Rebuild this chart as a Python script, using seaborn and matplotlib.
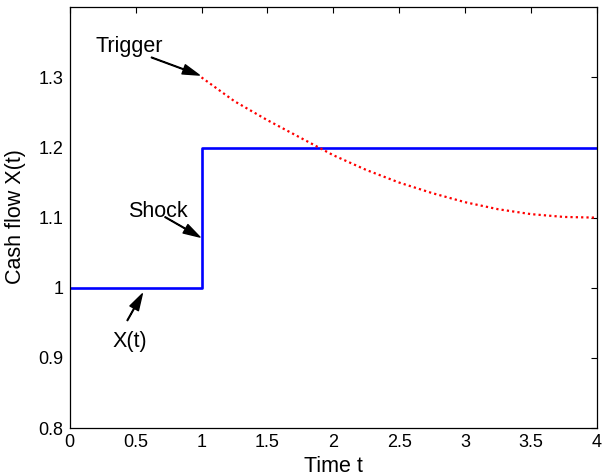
import matplotlib
matplotlib.use("Agg")
import matplotlib.pyplot as plt
import pandas as pd
import seaborn as sns

# Cash flow path X(t): level 1 until the shock at t = 1, then 1.2
flow_t = [0.0, 1.0, 4.0]
flow_x = [1.0, 1.2, 1.2]

# Trigger boundary after the shock
trigger_t = [1.0, 1.25, 1.5, 1.75, 2.0, 2.25, 2.5, 2.75, 3.0, 3.25, 3.5, 3.75, 4.0]
trigger_x = [1.300, 1.266, 1.239, 1.214, 1.189, 1.168, 1.150, 1.135, 1.122, 1.112, 1.105, 1.101, 1.100]

x_ticks = [0, 0.5, 1, 1.5, 2, 2.5, 3, 3.5, 4]
x_tick_labels = ["0", "0.5", "1", "1.5", "2", "2.5", "3", "3.5", "4"]
y_ticks = [0.8, 0.9, 1.0, 1.1, 1.2, 1.3]
y_tick_labels = ["0.8", "0.9", "1", "1.1", "1.2", "1.3"]

sns.set_theme(style="white")
plt.rcParams["font.family"] = ["Liberation Sans", "DejaVu Sans"]
plt.rcParams.update({
    "text.color": "black",
    "axes.labelcolor": "black",
    "xtick.color": "black",
    "ytick.color": "black",
})

fig = plt.figure(figsize=(6.04, 4.76), dpi=100)
ax = fig.add_axes([0.1154, 0.1008, 0.8730, 0.8839])

flow_df = pd.DataFrame({"t": flow_t, "x": flow_x})
trigger_df = pd.DataFrame({"t": trigger_t, "x": trigger_x})

sns.lineplot(data=flow_df, x="t", y="x", ax=ax, color=(0, 0, 1), linewidth=1.9,
             drawstyle="steps-post", estimator=None, sort=False, legend=False)
sns.lineplot(data=trigger_df, x="t", y="x", ax=ax, color=(1, 0, 0), linewidth=1.6,
             linestyle=(0, (1, 1.4)), estimator=None, sort=False, legend=False)

ax.set_xlim(0, 4)
ax.set_ylim(0.8, 1.4)
ax.set_xticks(x_ticks)
ax.set_xticklabels(x_tick_labels)
ax.set_yticks(y_ticks)
ax.set_yticklabels(y_tick_labels)
ax.tick_params(direction="in", top=True, right=True, length=4, width=0.8,
               colors="black", labelsize=13, pad=4.5)

for side in ax.spines.values():
    side.set_visible(True)
    side.set_color("black")
    side.set_linewidth(0.9)

ax.set_xlabel("Time t", fontsize=15.5, color="black")
ax.set_ylabel("Cash flow X(t)", fontsize=15.5, color="black")
ax.xaxis.set_label_coords(0.5, -0.066)
ax.yaxis.set_label_coords(-0.083, 0.502)

arrow_style = dict(facecolor="black", edgecolor="black", width=0.5,
                   headwidth=7, headlength=12, shrink=0.0)

# Trigger label and arrow
ax.text(0.453, 1.3366, "Trigger", fontsize=15.5, color="black", ha="center", va="baseline")
ax.annotate("", xy=(0.983, 1.3033), xytext=(0.620, 1.3285), arrowprops=arrow_style)

# Shock label and arrow
ax.text(0.668, 1.1009, "Shock", fontsize=15.5, color="black", ha="center", va="baseline")
ax.annotate("", xy=(0.988, 1.0723), xytext=(0.723, 1.1009), arrowprops=arrow_style)

# X(t) label and arrow
ax.text(0.4536, 0.9151, "X(t)", fontsize=15.5, color="black", ha="center", va="baseline")
ax.annotate("", xy=(0.551, 0.9914), xytext=(0.437, 0.9533), arrowprops=arrow_style)

fig.savefig("out.png", dpi=100, facecolor="white")
